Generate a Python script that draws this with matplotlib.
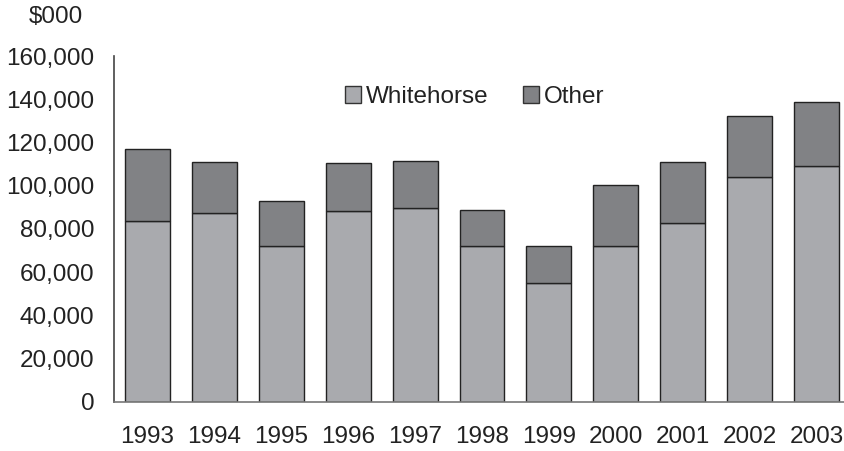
import matplotlib
matplotlib.use("Agg")
import matplotlib.pyplot as plt
from matplotlib.patches import Patch

years = ["1993", "1994", "1995", "1996", "1997", "1998", "1999", "2000", "2001", "2002", "2003"]
whitehorse = [83500, 87400, 72300, 88200, 89600, 72100, 55200, 72300, 82600, 103900, 109100]
totals = [117000, 110800, 92800, 110400, 111400, 88600, 72300, 100200, 110800, 132100, 138600]
other = [t - w for t, w in zip(totals, whitehorse)]
yticks = list(range(0, 160001, 20000))

plt.rcParams['font.family'] = ['Liberation Sans', 'DejaVu Sans']
FS = 17.5

fig = plt.figure(figsize=(8.45, 4.51), dpi=100)
W, H = 845, 451
left, right, top, bottom = 114, 850, 56, 402
ax = fig.add_axes([left / W, 1 - bottom / H, (right - left) / W, (bottom - top) / H])

c_w = "#a9aaae"
c_o = "#818285"
x = list(range(len(years)))
ax.bar(x, whitehorse, width=0.67, color=c_w, edgecolor="#222222", linewidth=1.0)
ax.bar(x, other, width=0.67, bottom=whitehorse, color=c_o, edgecolor="#222222", linewidth=1.0)

ax.set_xlim(-0.5, len(years) - 0.5)
ax.set_ylim(0, 160000)
ax.set_yticks(yticks)
ax.set_yticklabels([f"{v:,}" for v in yticks], fontsize=FS, color="#222222")
ax.set_xticks(x)
ax.set_xticklabels(years, fontsize=FS, color="#222222")
ax.tick_params(axis='y', length=0, pad=14)
ax.tick_params(axis='x', length=0, pad=17)
for s in ["top", "right"]:
    ax.spines[s].set_visible(False)
ax.spines["left"].set_color("#444444")
ax.spines["bottom"].set_color("#777777")
ax.spines["left"].set_linewidth(1.2)
ax.spines["bottom"].set_linewidth(1.2)

fig.text(55.5 / W, 1 - 17 / H, "$000", fontsize=FS, ha="center", va="center", color="#222222")

handles = [Patch(facecolor=c_w, edgecolor="#333333", linewidth=1.0, label="Whitehorse"),
           Patch(facecolor=c_o, edgecolor="#333333", linewidth=1.0, label="Other")]
fig.legend(handles=handles, loc="center", bbox_to_anchor=(474.7 / W, 1 - 97 / H), ncol=2,
           frameon=False, fontsize=FS, handlelength=0.65, handleheight=0.65,
           handletextpad=0.2, columnspacing=1.4, borderpad=0, labelcolor="#222222")

fig.savefig("out.png", dpi=100)
